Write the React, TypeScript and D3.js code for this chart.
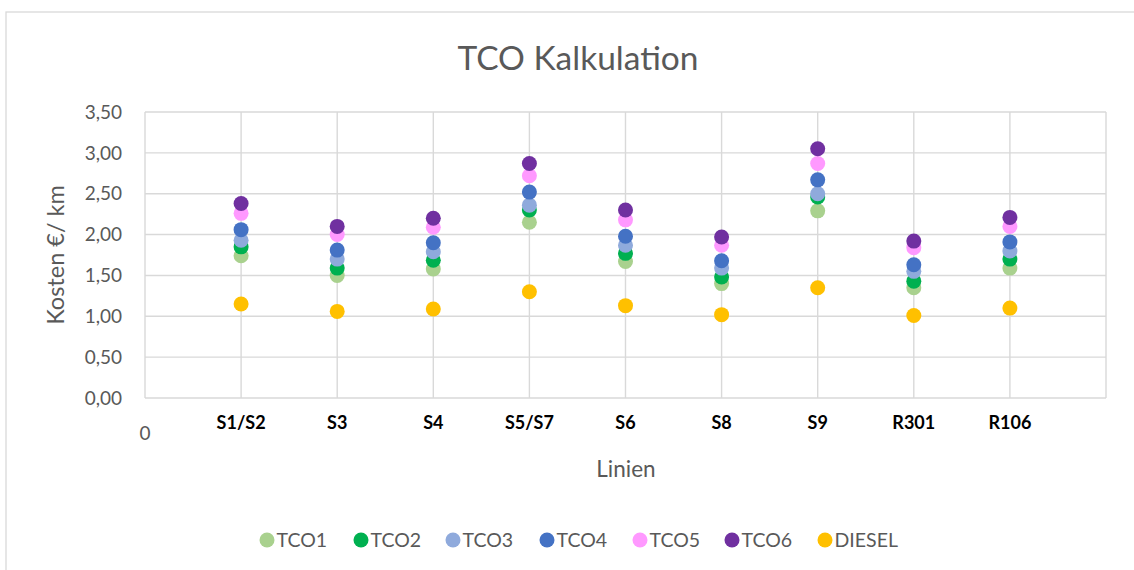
import React from "react";
import * as d3 from "d3";

const categories = ["S1/S2", "S3", "S4", "S5/S7", "S6", "S8", "S9", "R301", "R106"];
const seriesNames = ["TCO1", "TCO2", "TCO3", "TCO4", "TCO5", "TCO6", "DIESEL"];
const seriesColors = ["#A9D18E", "#00B050", "#8FAADC", "#4472C4", "#FF99FF", "#7030A0", "#FFC000"];

const tco1 = [1.74, 1.5, 1.58, 2.15, 1.67, 1.4, 2.29, 1.35, 1.59];
const tco2 = [1.85, 1.59, 1.685, 2.3, 1.77, 1.48, 2.46, 1.43, 1.7];
const tco3 = [1.93, 1.7, 1.79, 2.36, 1.87, 1.59, 2.5, 1.55, 1.8];
const tco4 = [2.06, 1.81, 1.9, 2.52, 1.98, 1.68, 2.67, 1.63, 1.91];
const tco5 = [2.26, 2.0, 2.09, 2.72, 2.18, 1.87, 2.87, 1.84, 2.1];
const tco6 = [2.38, 2.1, 2.2, 2.87, 2.3, 1.97, 3.05, 1.92, 2.21];
const diesel = [1.15, 1.06, 1.09, 1.3, 1.13, 1.02, 1.35, 1.01, 1.1];

const seriesValues = [tco1, tco2, tco3, tco4, tco5, tco6, diesel];
const yTicks = [0, 0.5, 1, 1.5, 2, 2.5, 3, 3.5];
const xGrid = [0, 1, 2, 3, 4, 5, 6, 7, 8, 9, 10];

const FONT = "Lato, 'Open Sans', sans-serif";

export default function App() {
  const W = 1134;
  const H = 570;
  const x = d3.scaleLinear().domain([0, 10]).range([145, 1106]);
  const y = d3.scaleLinear().domain([0, 3.5]).range([398, 112]);
  const fmt = (v: number) => d3.format(".2f")(v).replace(".", ",");
  const legendX = [267, 361, 453, 547, 640, 732, 825];

  return (
    <svg
      width={W}
      height={H}
      style={{ position: "absolute", left: 0, top: 0, background: "#fff" }}
      fontFamily={FONT}
    >
      <rect x={6} y={12} width={W + 20} height={H + 20} fill="#fff" stroke="#D9D9D9" strokeWidth={1.3} />
      <text x={578} y={70} textAnchor="middle" fontSize={33.5} fill="#595959">
        TCO Kalkulation
      </text>
      {/* grid */}
      {yTicks.map((t) => (
        <line key={"h" + t} x1={x(0)} x2={x(10)} y1={y(t)} y2={y(t)} stroke="#D9D9D9" strokeWidth={1.4} />
      ))}
      {xGrid.map((t) => (
        <line key={"v" + t} x1={x(t)} x2={x(t)} y1={y(0)} y2={y(3.5)} stroke="#D9D9D9" strokeWidth={1.4} />
      ))}
      {/* y tick labels */}
      {yTicks.map((t) => (
        <text key={"yl" + t} x={122} y={y(t)} dy="0.35em" textAnchor="end" fontSize={19} fill="#595959">
          {fmt(t)}
        </text>
      ))}
      {/* x tick labels */}
      <text x={x(0)} y={440} textAnchor="middle" fontSize={19} fill="#595959">
        0
      </text>
      {categories.map((c, i) => (
        <text key={c} x={x(i + 1)} y={429} textAnchor="middle" fontSize={18} fontWeight="bold" fill="#000">
          {c}
        </text>
      ))}
      {/* axis titles */}
      <text x={626} y={477} textAnchor="middle" fontSize={22.5} fill="#595959">
        Linien
      </text>
      <text
        transform={`translate(64,${(y(0) + y(3.5)) / 2}) rotate(-90)`}
        textAnchor="middle"
        fontSize={23.5}
        fill="#595959"
      >
        Kosten €/ km
      </text>
      {/* points */}
      {seriesValues.map((vals, si) => (
        <g key={seriesNames[si]}>
          {vals.map((v, i) => (
            <circle key={i} cx={x(i + 1)} cy={y(v)} r={7.5} fill={seriesColors[si]} />
          ))}
        </g>
      ))}
      {/* legend */}
      {seriesNames.map((n, i) => (
        <g key={"lg" + n}>
          <circle cx={legendX[i]} cy={540} r={7.5} fill={seriesColors[i]} />
          <text x={legendX[i] + 9.5} y={540} dy="0.35em" fontSize={19.5} fill="#595959">
            {n}
          </text>
        </g>
      ))}
    </svg>
  );
}
